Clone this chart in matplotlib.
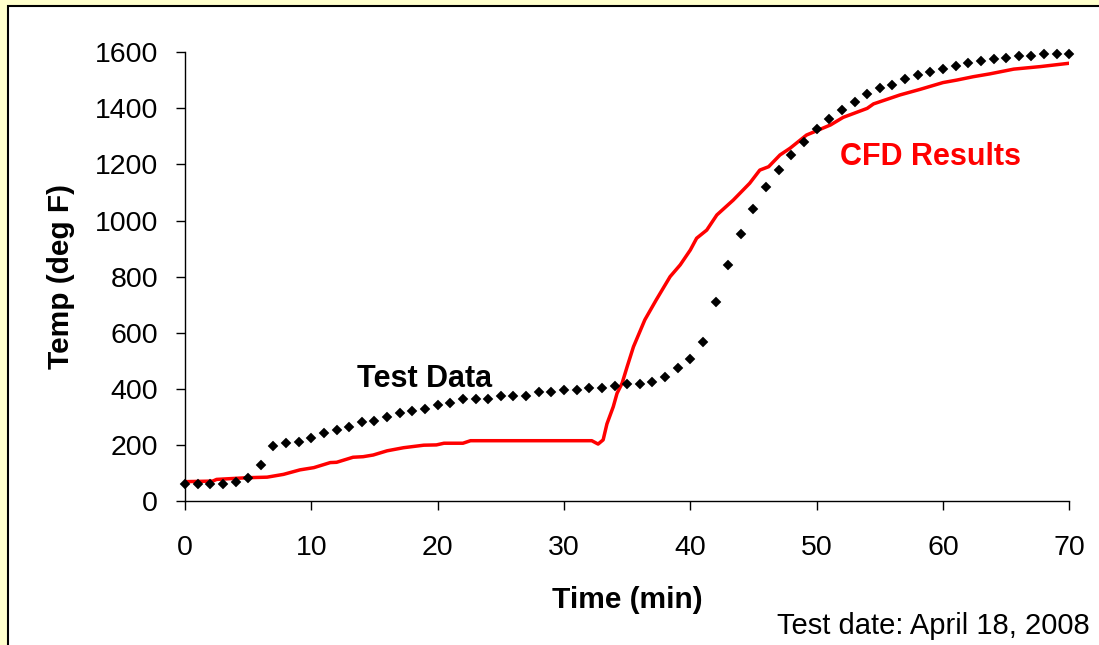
import matplotlib
matplotlib.use('Agg')
import matplotlib.pyplot as plt
from matplotlib.patches import Rectangle

plt.rcParams['font.family'] = ['Liberation Sans', 'DejaVu Sans']

# Test data: one reading per minute
test_time = list(range(0, 71))
test_temp = [61, 61, 61, 61, 67, 81, 128, 197, 206, 211,
             226, 241, 253, 265, 281, 286, 301, 313, 322, 328,
             342, 348, 363, 363, 363, 376, 376, 376, 390, 390,
             396, 396, 404, 404, 410, 417, 417, 425, 443, 473,
             505, 568, 711, 842, 952, 1041, 1121, 1180, 1234, 1281,
             1327, 1361, 1394, 1422, 1450, 1472, 1484, 1504, 1519, 1531,
             1540, 1552, 1561, 1570, 1577, 1580, 1587, 1587, 1594, 1594,
             1594]

# CFD results
cfd_time = [0, 2.2, 2.5, 4.1, 4.9, 6.5, 7.8, 9.1, 10.2, 11.5, 12.0, 13.3,
            14.1, 14.9, 16.0, 17.3, 18.9, 19.9, 20.5, 22.0, 22.6, 32.2,
            32.7, 33.1, 33.4, 33.9, 34.2, 34.6, 35.0, 35.5, 36.4, 37.3,
            38.4, 39.2, 40.0, 40.5, 41.3, 42.1, 43.4, 44.7, 45.5, 46.2,
            47.1, 47.9, 49.2, 51.1, 52.1, 54.0, 54.5, 56.6, 58.2, 60.0,
            61.1, 62.4, 63.7, 65.6, 67.7, 70.0]
cfd_temp = [69, 71, 77, 81, 83, 85, 95, 111, 119, 137, 138, 156,
            158, 164, 179, 190, 199, 200, 206, 206, 215, 215,
            203, 218, 275, 336, 384, 420, 479, 550, 646, 717,
            800, 842, 895, 937, 966, 1020, 1073, 1133, 1180, 1192,
            1234, 1258, 1305, 1341, 1368, 1400, 1416, 1448, 1468, 1492,
            1501, 1513, 1523, 1540, 1549, 1561]

fig = plt.figure(figsize=(10.99, 6.45), dpi=100)
fig.patch.set_facecolor('#FFFFCC')
# white panel with black border
fig.patches.append(Rectangle((8 / 1099, -0.05), 1.1, 1 - 6 / 645 + 0.05,
                             transform=fig.transFigure, facecolor='white',
                             edgecolor='black', linewidth=1.5, zorder=-10))

ax = fig.add_axes([185 / 1099, 1 - 501 / 645, (1069.3 - 185) / 1099, (501 - 52.3) / 645])
ax.set_facecolor('none')

ax.plot(cfd_time, cfd_temp, color='#FF0000', linewidth=2.5, zorder=2)
ax.plot(test_time, test_temp, linestyle='none', marker='D', markersize=5.3,
        color='black', markeredgewidth=0.3, zorder=3, clip_on=False)

ax.set_xlim(0, 70)
ax.set_ylim(0, 1600)
ax.set_xticks(range(0, 71, 10))
ax.set_yticks(range(0, 1601, 200))
ax.spines['top'].set_visible(False)
ax.spines['right'].set_visible(False)
for s in ['left', 'bottom']:
    ax.spines[s].set_linewidth(1.0)
ax.tick_params(axis='both', labelsize=20.5, length=6.5, width=1.0, direction='out')
ax.tick_params(axis='y', pad=13)
ax.tick_params(axis='x', pad=18)

ax.set_xlabel('Time (min)', fontsize=21.5, fontweight='bold', labelpad=18)
ax.set_ylabel('Temp (deg F)', fontsize=21.5, fontweight='bold', labelpad=14)

ax.text(19.0, 435, 'Test Data', fontsize=22, fontweight='bold', color='black',
        ha='center', va='center')
ax.text(59.0, 1228, 'CFD Results', fontsize=22, fontweight='bold', color='#FF0000',
        ha='center', va='center')

fig.text(1090 / 1099, 1 - 626 / 645, 'Test date: April 18, 2008', fontsize=21,
         ha='right', va='center')

fig.savefig('out.png', dpi=100, facecolor=fig.get_facecolor())
